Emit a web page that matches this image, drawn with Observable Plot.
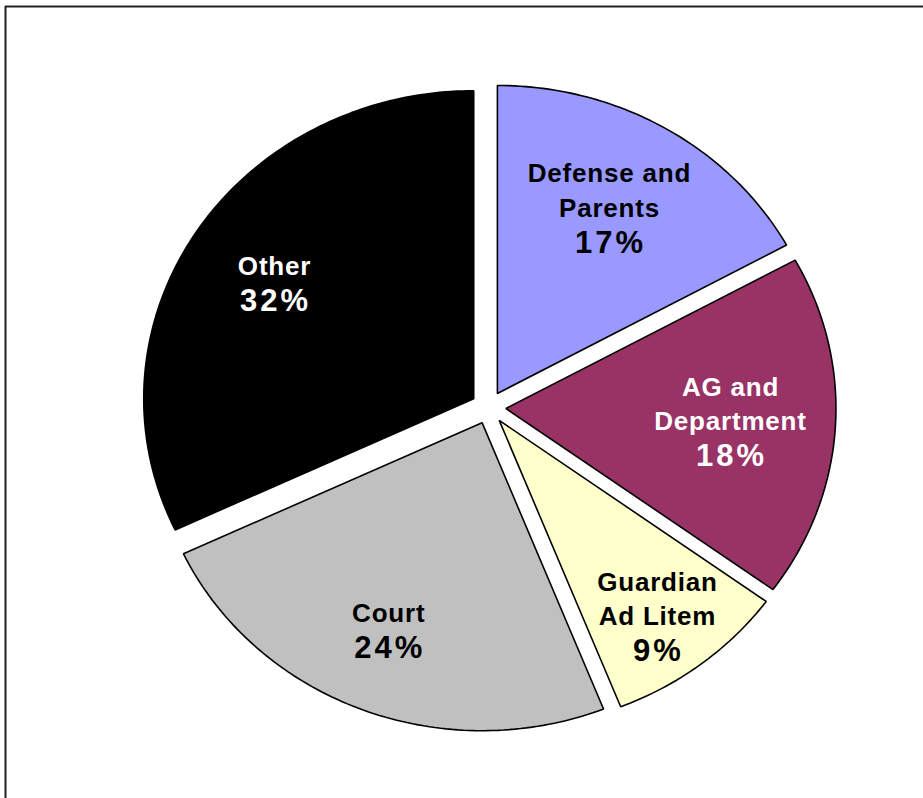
<!DOCTYPE html>
<html>
<head>
<meta charset="utf-8">
<script src="https://cdn.jsdelivr.net/npm/d3@7"></script>
<script src="https://cdn.jsdelivr.net/npm/@observablehq/plot@0.6"></script>
<style>
  body { margin: 0; background: #fff; }
  #chart svg { display: block; }
</style>
</head>
<body>
<div id="chart"></div>
<script>
// ---- data ----
const categories = ["Defense and Parents", "AG and Department", "Guardian Ad Litem", "Court", "Other"];
const labelText  = ["Defense and\nParents", "AG and\nDepartment", "Guardian\nAd Litem", "Court", "Other"];
const shares     = [17, 18, 9, 24, 32];
const pctLabels  = ["17%", "18%", "9%", "24%", "32%"];
const sliceFills = ["#9999FF", "#993366", "#FFFFCC", "#C0C0C0", "#000000"];
const textFills  = ["#000000", "#FFFFFF", "#000000", "#000000", "#FFFFFF"];

// ---- layout ----
const W = 923, H = 798;
const cx = 488, cy = 407, rx = 330, ry = 308;
const mTop = 6, mLeft = 5;
const explode = 0.053;
const lineGap = 34.5 / ry;

const arcs = d3.pie().sort(null).value(d => d)(shares);

const slices = arcs.map((a, i) => {
  const mid = (a.startAngle + a.endAngle) / 2;
  const ox = explode * Math.sin(mid), oy = explode * Math.cos(mid);
  const pts = [{u: ox, v: oy}];
  const n = Math.max(2, Math.ceil((a.endAngle - a.startAngle) / (Math.PI / 180)));
  for (let k = 0; k <= n; k++) {
    const t = a.startAngle + (a.endAngle - a.startAngle) * k / n;
    pts.push({u: ox + Math.sin(t), v: oy + Math.cos(t)});
  }
  return {i, mid, pts};
});

const labelRows = [], pctRows = [];
slices.forEach(s => {
  const lr = shares[s.i] < 10 ? 0.86 : (Math.cos(s.mid) < -0.8 ? 0.78 : 0.75);
  const au = lr * Math.sin(s.mid), av = lr * Math.cos(s.mid);
  const lines = labelText[s.i].split("\n");
  const n = lines.length + 1;
  lines.forEach((t, k) => {
    labelRows.push({text: t, u: au, v: av - (k - (n - 1) / 2) * lineGap, tc: textFills[s.i]});
  });
  pctRows.push({text: pctLabels[s.i], u: au, v: av - (n - 1 - (n - 1) / 2) * lineGap, tc: textFills[s.i]});
});

const font = "'Liberation Sans', Arial, Helvetica, sans-serif";

const chart = Plot.plot({
  width: W,
  height: H,
  marginTop: mTop,
  marginLeft: mLeft,
  marginRight: 0,
  marginBottom: 0,
  x: {domain: [(mLeft - cx) / rx, (W - cx) / rx], axis: null},
  y: {domain: [(cy - H) / ry, (cy - mTop) / ry], axis: null},
  color: {type: "identity"},
  style: {fontFamily: font, background: "#fff"},
  marks: [
    ...slices.map(s => Plot.line(s.pts, {
      x: "u", y: "v", curve: "linear-closed",
      fill: sliceFills[s.i], stroke: "#000", strokeWidth: 1.6, strokeLinejoin: "miter"
    })),
    Plot.text(labelRows, {x: "u", y: "v", text: "text", fill: "tc", fontSize: 26, fontWeight: "bold", fontFamily: font, dx: -5}),
    Plot.text(pctRows, {x: "u", y: "v", text: "text", fill: "tc", fontSize: 31, fontWeight: "bold", fontFamily: font, dx: -4}),
    Plot.ruleY([(cy - mTop) / ry], {stroke: "#222", strokeWidth: 2}),
    Plot.ruleX([(mLeft - cx) / rx], {stroke: "#222", strokeWidth: 2})
  ]
});

const tg = chart.querySelectorAll('g[aria-label="text"]');
if (tg[0]) tg[0].setAttribute("letter-spacing", "0.8");
if (tg[1]) tg[1].setAttribute("letter-spacing", "3");

document.getElementById("chart").appendChild(chart);
</script>
</body>
</html>
